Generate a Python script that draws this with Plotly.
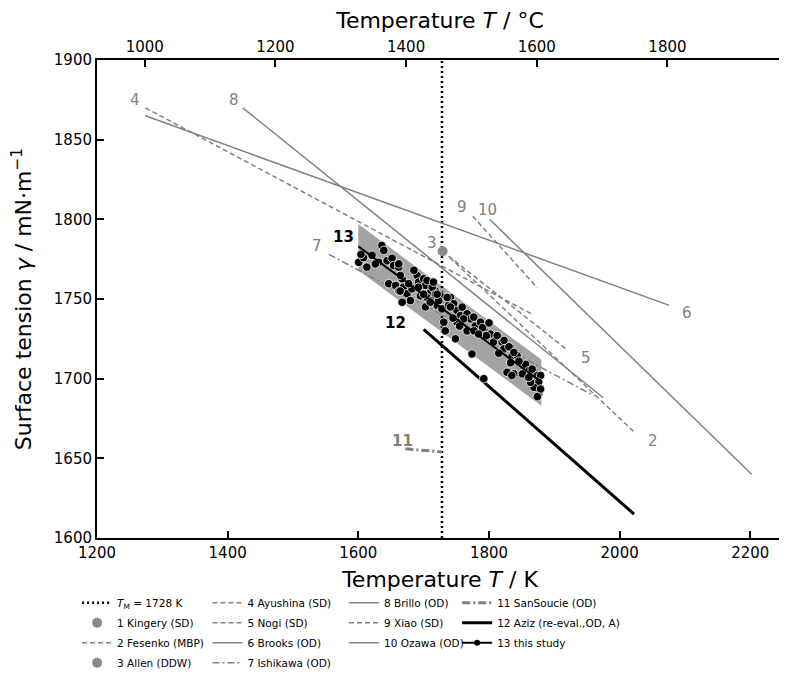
import plotly.graph_objects as go

# ---------------- data ----------------
TM = 1728
GRAY = "#808080"

# literature lines: (T start, T end), (gamma start, gamma end)
fesenko_T = [1740, 2021]; fesenko_g = [1776, 1667]
ayushina_T = [1274, 1868]; ayushina_g = [1870, 1740]
nogi_T = [1738, 1920]; nogi_g = [1777, 1718]
brooks_T = [1274, 2076]; brooks_g = [1865, 1746]
ishikawa_T = [1555, 1962]; ishikawa_g = [1778, 1689]
brillo_T = [1423, 1975]; brillo_g = [1870, 1688]
xiao_T = [1775, 1874]; xiao_g = [1802, 1757]
ozawa_T = [1801, 2202]; ozawa_g = [1800, 1640]
sansoucie_T = [1672, 1728]; sansoucie_g = [1656, 1654]
aziz_T = [1700, 2022]; aziz_g = [1731, 1615]
kingery_T = [1750]; kingery_g = [1740]
allen_T = [1729]; allen_g = [1780]

study_T = [1600, 1880]; study_g = [1783, 1698]
band_T = [1600, 1880]; band_upper = [1797, 1712]; band_lower = [1768, 1683]

meas_T = [1600.5, 1608, 1621, 1636, 1639, 1631, 1644, 1651.6, 1654, 1661.8, 1646.5, 1657, 1667, 1669,
          1674.6, 1682, 1690, 1692.4, 1700, 1702.7, 1715.4, 1710, 1718, 1705, 1713, 1695, 1679.7, 1667,
          1702.7, 1720.6, 1725.7, 1613, 1604, 1626, 1662,
          1661.8, 1664.4, 1664, 1677, 1692, 1705, 1700, 1713, 1718, 1710, 1723, 1728, 1741, 1738, 1746,
          1751, 1759, 1756, 1766.5, 1771.6, 1776.7, 1779, 1787, 1792, 1733, 1748.7, 1730.8, 1766.5,
          1715, 1720.6, 1736, 1741, 1761, 1751, 1777, 1790, 1802, 1807, 1812.6, 1820, 1822.7, 1833,
          1835.5, 1843, 1848, 1856, 1861, 1868.7, 1874, 1879, 1876, 1868.7, 1876, 1863.6, 1827.6, 1838,
          1774, 1792, 1833, 1858.5,
          1823, 1830.6, 1838, 1846, 1866, 1879, 1874, 1835, 1851, 1861,
          1796, 1784, 1815, 1800, 1745, 1755, 1685]
meas_g = [1773, 1776, 1777.4, 1783.6, 1780.5, 1773, 1774, 1775.5, 1771, 1770, 1759.6, 1758.5, 1762.7, 1757.4,
          1753.3, 1756.4, 1764.8, 1760.6, 1762.7, 1758.5, 1759.6, 1754, 1755, 1751, 1749, 1752, 1749, 1748,
          1745, 1746, 1752, 1770, 1778, 1772, 1755,
          1772, 1764.8, 1755, 1759.6, 1757.4, 1761.6, 1753, 1757.4, 1753, 1748, 1749, 1743.8, 1751, 1746, 1747,
          1742.8, 1744.9, 1739.6, 1740.7, 1737.5, 1738.6, 1733, 1735.4, 1731, 1730, 1725, 1735.4, 1730,
          1760.6, 1753, 1751, 1745, 1737.5, 1735.4, 1730, 1732, 1728, 1723, 1727, 1723, 1718.7, 1719.7,
          1714.5, 1714.5, 1710, 1709, 1705, 1704, 1702, 1702, 1697.7, 1694.6, 1690, 1697.7, 1704, 1703,
          1715.5, 1700, 1710, 1701,
          1724, 1720, 1716.5, 1711, 1706, 1693.5, 1688.7, 1702, 1703, 1700.8,
          1727, 1728, 1716, 1735, 1738, 1733, 1768]

# in-plot labels
lab_text = ["4", "8", "9", "10", "3", "7", "5", "6", "2"]
lab_T = [1258, 1409, 1758, 1798, 1713, 1537, 1948, 2103, 2051]
lab_g = [1875, 1875, 1807.5, 1806, 1785, 1783, 1713, 1741.5, 1661]
bold_text = ["13", "12", "11"]
bold_T = [1578, 1657, 1667]
bold_g = [1789, 1735, 1661]
bold_col = ["black", "black", GRAY]

# top axis ticks (deg C)
topticks = [1000, 1200, 1400, 1600, 1800]
xrange_K = [1200, 2250]
yrange = [1600, 1900]

# ---------------- figure ----------------
fig = go.Figure()
DASH = "5px,3px"
DASHDOT = "7px,3px,2px,3px"
_gid = [0]

def _grp():
    _gid[0] += 1
    return "g%d" % _gid[0]

def line(T, g, name, leg, dash="solid", color=GRAY, width=1.5):
    fig.add_trace(go.Scatter(x=T, y=g, mode="lines", name=name, legend=leg, legendgroup=_grp(),
                             line=dict(color=color, width=width, dash=dash)))

def point(T, g, name, leg):
    fig.add_trace(go.Scatter(x=T, y=g, mode="markers", name=name, legend=leg, legendgroup=_grp(),
                             marker=dict(color="#8a8a8a", size=10, line=dict(width=0))))

# band (no legend)
fig.add_trace(go.Scatter(x=band_T + band_T[::-1], y=band_upper + band_lower[::-1], fill="toself",
                         fillcolor="#a3a3a3", line=dict(width=0), mode="lines", showlegend=False,
                         hoverinfo="skip"))

# column 1
fig.add_trace(go.Scatter(x=[TM, TM], y=yrange, mode="lines", name="<i>T</i><sub>M</sub> = 1728 K",
                         legend="legend", legendgroup=_grp(),
                         line=dict(color="black", width=2.5, dash="2px,3px")))
point(kingery_T, kingery_g, "1 Kingery (SD)", "legend")
line(fesenko_T, fesenko_g, "2 Fesenko (MBP)", "legend", DASH)
point(allen_T, allen_g, "3 Allen (DDW)", "legend")
# column 2
line(ayushina_T, ayushina_g, "4 Ayushina (SD)", "legend2", DASH)
line(nogi_T, nogi_g, "5 Nogi (SD)", "legend2", DASH)
line(brooks_T, brooks_g, "6 Brooks (OD)", "legend2")
line(ishikawa_T, ishikawa_g, "7 Ishikawa (OD)", "legend2", DASHDOT)
# column 3
line(brillo_T, brillo_g, "8 Brillo (OD)", "legend3")
line(xiao_T, xiao_g, "9 Xiao (SD)", "legend3", DASH)
line(ozawa_T, ozawa_g, "10 Ozawa (OD)", "legend3")
# column 4
line(sansoucie_T, sansoucie_g, "11 SanSoucie (OD)", "legend4", "8px,3px,2px,3px", GRAY, 3)
line(aziz_T, aziz_g, "12 Aziz (re-eval.,OD, A)", "legend4", "solid", "black", 3)
fig.add_trace(go.Scatter(x=meas_T, y=meas_g, mode="markers", showlegend=False,
                         marker=dict(color="black", size=8.5, line=dict(color="white", width=0.8))))
fig.add_trace(go.Scatter(x=study_T, y=study_g, mode="lines", showlegend=False,
                         line=dict(color="black", width=2)))
# legend entry for 13 (line with dot)
fig.add_trace(go.Scatter(x=[None], y=[None], mode="lines+markers", name="13 this study",
                         legend="legend4", legendgroup=_grp(), line=dict(color="black", width=2),
                         marker=dict(size=6, color="black")))
# invisible trace on the top (deg C) axis
fig.add_trace(go.Scatter(x=topticks, y=[1700] * len(topticks), xaxis="x2",
                         mode="markers", marker=dict(opacity=0), showlegend=False, hoverinfo="skip"))

for t, x, y in zip(lab_text, lab_T, lab_g):
    fig.add_annotation(x=x, y=y, text=t, showarrow=False, font=dict(size=15, color=GRAY))
for t, x, y, c in zip(bold_text, bold_T, bold_g, bold_col):
    fig.add_annotation(x=x, y=y, text="<b>" + t + "</b>", showarrow=False, font=dict(size=15, color=c))

FONT = "DejaVu Sans"
axis_common = dict(showgrid=False, zeroline=False, ticks="inside", ticklen=7, tickwidth=1.5,
                   tickcolor="black", linecolor="black", linewidth=2, showline=True, automargin=False,
                   tickfont=dict(size=15, color="black", family=FONT))
leg_common = dict(font=dict(size=10.5, family=FONT, color="black"), bgcolor="rgba(0,0,0,0)",
                  itemwidth=30, yanchor="top", y=-0.105, tracegroupgap=1)

# the page body adds an 8px margin, so the figure is drawn 8px smaller and margins shifted
fig.update_layout(
    width=779, height=669, plot_bgcolor="white", paper_bgcolor="white",
    margin=dict(l=89, r=4, t=52, b=139, autoexpand=False),
    font=dict(family=FONT, color="black"),
    xaxis=dict(range=xrange_K, dtick=200, mirror=False,
               title=dict(text="Temperature <i>T</i> / K", font=dict(size=22), standoff=11),
               **axis_common),
    xaxis2=dict(range=[xrange_K[0] - 273.15, xrange_K[1] - 273.15], overlaying="x", side="top",
                tickvals=topticks,
                title=dict(text="Temperature <i>T</i> / °C", font=dict(size=22), standoff=18),
                **axis_common),
    yaxis=dict(range=yrange, dtick=50, mirror=True,
               title=dict(text="Surface tension <i>γ</i> / mN·m<sup>−1</sup>", font=dict(size=22),
                          standoff=20),
               **axis_common),
    legend=dict(x=-0.029, xanchor="left", **leg_common),
    legend2=dict(x=0.161, xanchor="left", **leg_common),
    legend3=dict(x=0.360, xanchor="left", **leg_common),
    legend4=dict(x=0.525, xanchor="left", **leg_common),
    showlegend=True,
)

fig.write_html("out.html")
